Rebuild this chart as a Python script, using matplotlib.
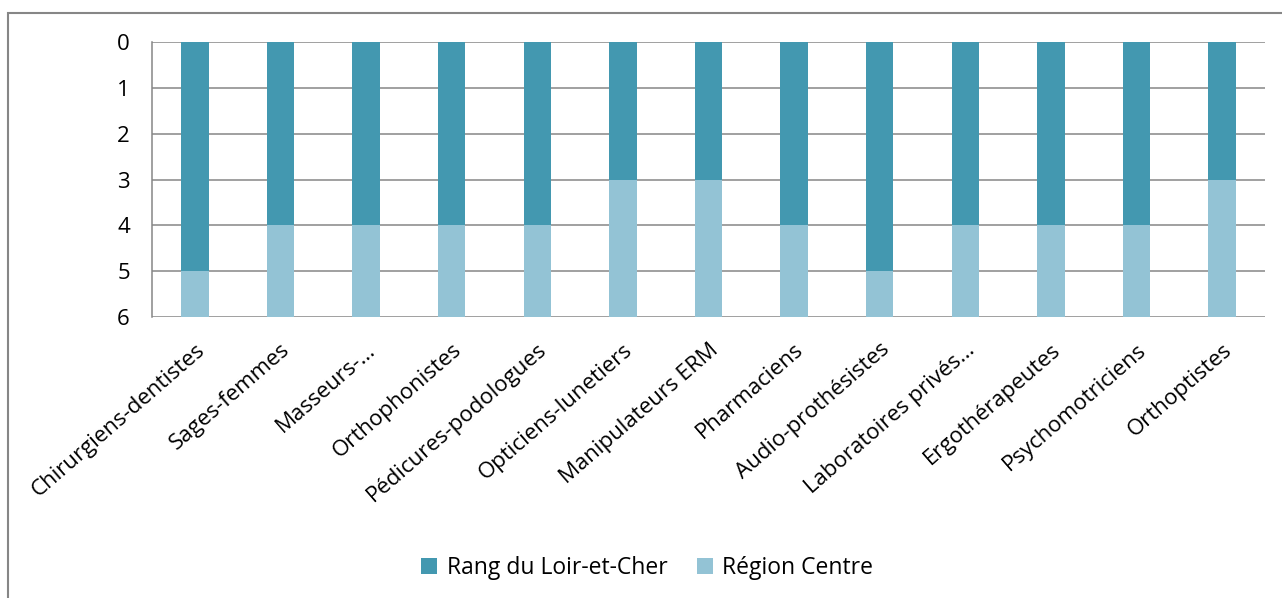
import matplotlib.pyplot as plt
import numpy as np
from matplotlib.patches import Rectangle

plt.rcParams['font.family'] = ['Open Sans', 'DejaVu Sans']

professions = ['Chirurgiens-dentistes', 'Sages-femmes', 'Masseurs-…', 'Orthophonistes',
               'Pédicures-podologues', 'Opticiens-lunetiers', 'Manipulateurs ERM',
               'Pharmaciens', 'Audio-prothésistes', 'Laboratoires privés…',
               'Ergothérapeutes', 'Psychomotriciens', 'Orthoptistes']
rang_loir_et_cher = [5, 4, 4, 4, 4, 3, 3, 4, 5, 4, 4, 4, 3]
region_centre = [1, 2, 2, 2, 2, 3, 3, 2, 1, 2, 2, 2, 3]

dark = '#4398B0'
light = '#93C3D5'

fig = plt.figure(figsize=(12.82, 5.98), dpi=100)
ax = fig.add_axes([152 / 1282, 1 - 317 / 598, (1265 - 152) / 1282, (317 - 42) / 598])

x = np.arange(len(professions))
ax.bar(x, rang_loir_et_cher, width=0.32, color=dark, label='Rang du Loir-et-Cher', zorder=2)
ax.bar(x, region_centre, width=0.32, bottom=rang_loir_et_cher, color=light,
       label='Région Centre', zorder=2)

ax.set_xlim(-0.5, len(professions) - 0.5)
ax.set_ylim(6, 0)
ax.set_yticks(range(7))
ax.yaxis.grid(True, color='#868686', linewidth=1.1, zorder=0)
for s in ['top', 'right', 'bottom']:
    ax.spines[s].set_visible(False)
ax.spines['left'].set_color('#868686')
ax.spines['left'].set_linewidth(1.1)
ax.tick_params(axis='y', length=0, pad=16, labelsize=16)
ax.tick_params(axis='x', length=0, pad=16, labelsize=16)
ax.set_xticks(x)
ax.set_xticklabels(professions, rotation=41, ha='right', rotation_mode='anchor')

fig.legend(loc='center', bbox_to_anchor=(0.505, 1 - 568 / 598), ncol=2, frameon=False,
           fontsize=16.5, handlelength=0.7, handleheight=0.7, handletextpad=0.4,
           columnspacing=1.3)

# outer chart border (cut off at right and bottom)
fig.patches.append(Rectangle((8 / 1282, -0.01), 1.0, 1 - 13 / 598 + 0.01,
                             transform=fig.transFigure, fill=False,
                             edgecolor='#868686', linewidth=1.5))

fig.savefig('out.png', dpi=100)
